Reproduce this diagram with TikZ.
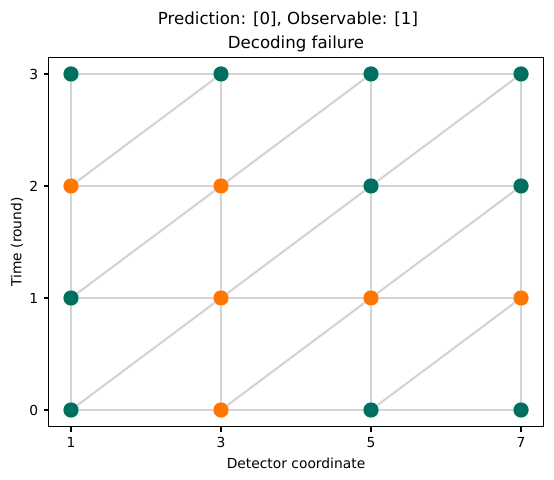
\documentclass[tikz,border=0pt]{standalone}
\usepackage{fontspec}
\setmainfont{DejaVu Sans}
\definecolor{qteal}{RGB}{0,112,96}
\definecolor{qorange}{RGB}{255,119,0}
\definecolor{edgegray}{RGB}{211,211,211}
\tikzset{
every picture/.style={x=0.72bp,y=0.72bp},
det/.style={circle, inner sep=0pt, minimum size=11bp},
edge/.style={edgegray, line width=1.5bp},
axis/.style={black, line width=0.8bp},
ticklab/.style={inner sep=0pt, font=\fontsize{10}{12}\selectfont}
}

\begin{document}
\begin{tikzpicture}
      \useasboundingbox (0,0) rectangle (554,480);
      \node[font=\fontsize{12}{14}\selectfont] (sup) at (288,461) {Prediction: [0], Observable: [1]};
      \node[font=\fontsize{12}{14}\selectfont] (ttl) at (296,436) {Decoding failure};
      \node[font=\fontsize{10}{12}\selectfont] (xlab) at (296,17) {Detector coordinate};
      \node[font=\fontsize{10}{12}\selectfont, rotate=90] (ylab) at (17,238) {Time (round)};
      \begin{scope}[shift={(-4,70)}, x=54bp, y=80.64bp]
        \foreach \c/\t/\k in {1/0/qteal, 3/0/qorange, 5/0/qteal, 7/0/qteal,
                              1/1/qteal, 3/1/qorange, 5/1/qorange, 7/1/qorange,
                              1/2/qorange, 3/2/qorange, 5/2/qteal, 7/2/qteal,
                              1/3/qteal, 3/3/qteal, 5/3/qteal, 7/3/qteal} {
          \node[det, fill=\k] (d\c\t) at (\c,\t) {};
        }
        % time edges
        \foreach \c in {1,3,5,7}
          \foreach \t/\u in {0/1,1/2,2/3}
            \draw[edge] (d\c\t) -- (d\c\u);
        % space edges
        \foreach \t in {0,1,2,3}
          \foreach \c/\n in {1/3,3/5,5/7}
            \draw[edge] (d\c\t) -- (d\n\t);
        % diagonal edges
        \foreach \c/\n in {1/3,3/5,5/7}
          \foreach \t/\u in {0/1,1/2,2/3}
            \draw[edge] (d\c\t) -- (d\n\u);
        \draw[axis] (0.7,-0.15) rectangle (7.3,3.15);
        \foreach \c in {1,3,5,7}
          \draw[axis] (\c,-0.15) -- ++(0,-3.5bp) node[ticklab, below=3.5bp] (xl\c) {\c};
        \foreach \t in {0,1,2,3}
          \draw[axis] (0.7,\t) -- ++(-3.5bp,0) node[ticklab, left=3.5bp] (yl\t) {\t};
      \end{scope}
    \end{tikzpicture}
\end{document}
